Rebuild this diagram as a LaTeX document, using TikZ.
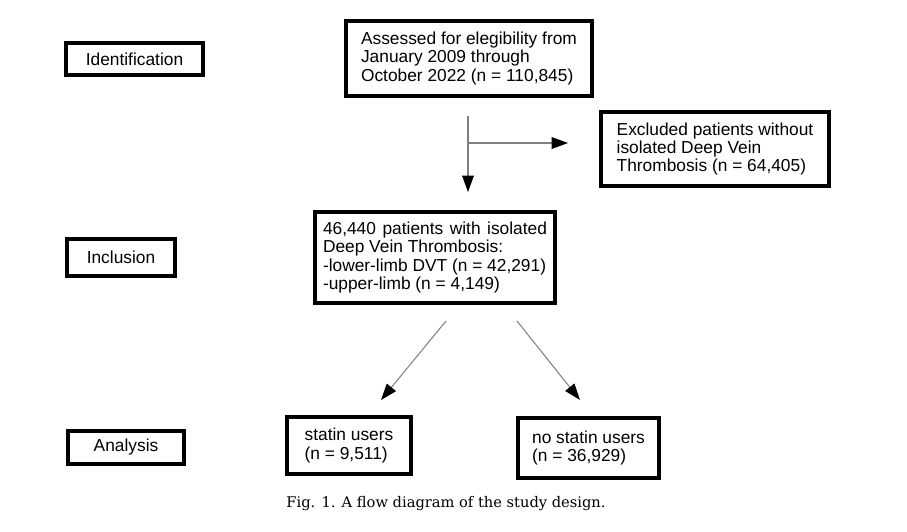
\documentclass[tikz,border=0pt]{standalone}
\usepackage{fontspec}
\setmainfont{Liberation Sans}
\newfontfamily\captionserif{DejaVu Serif}
\usetikzlibrary{arrows.meta}

\begin{document}
\begin{tikzpicture}[x=0.03cm, y=-0.03cm,
            box/.style={draw, line width=3pt, rectangle, inner sep=0pt,
                font=\fontsize{14.8}{15.6}\selectfont},
            flow/.style={draw=black!50, line width=0.9pt,
                -{Triangle[length=14pt, width=10pt, color=black]}}]
            \useasboundingbox (0,0) rectangle (907,531);

            % stage labels on the left
            \node[box, minimum width=4.11cm, minimum height=0.96cm] (ident) at (134.5,59) {Identification};
            \node[box, minimum width=3.24cm, minimum height=1.11cm] (incl) at (121,257.5) {Inclusion};
            \node[box, minimum width=3.48cm, minimum height=0.99cm] (anal) at (126,447.5) {Analysis};

            % flow boxes
            \node[box, align=left, minimum width=7.38cm, minimum height=2.25cm] (assess) at (469,58.5)
                {Assessed for elegibility from\\January 2009 through\\October 2022 (n = 110,845)};
            \node[box, align=left, minimum width=6.84cm, minimum height=2.22cm] (excl) at (715,149)
                {Excluded patients without\\isolated Deep Vein\\Thrombosis (n = 64,405)};
            \node[box, align=left, minimum width=7.2cm, minimum height=2.73cm] (pts) at (435,257.5)
                {\makebox[6.72cm][s]{46,440 patients with isolated}\\Deep Vein Thrombosis:\\-lower-limb DVT (n = 42,291)\\-upper-limb (n = 4,149)};
            \node[box, align=left, minimum width=3.72cm, minimum height=1.71cm] (statin) at (349,445.5)
                {statin users\\(n = 9,511)};
            \node[box, align=left, minimum width=4.23cm, minimum height=1.8cm] (nostatin) at (588.5,448)
                {no statin users\\(n = 36,929)};

            % arrow ends
            \coordinate (downtop) at (468,116);
            \coordinate (downtip) at (468,192);
            \coordinate (side) at (468,143);
            \coordinate (sidetip) at (568,143);
            \coordinate (lefttop) at (446,321);
            \coordinate (lefttip) at (381,400);
            \coordinate (righttop) at (517,321);
            \coordinate (righttip) at (580,400);

            \draw[flow] (downtop) -- (downtip);
            \draw[flow] (side) -- (sidetip);
            \draw[flow] (lefttop) -- (lefttip);
            \draw[flow] (righttop) -- (righttip);

            \node[font=\captionserif\fontsize{12.5}{15}\selectfont] (caption) at (446,504)
                {Fig. 1. A flow diagram of the study design.};
        \end{tikzpicture}
\end{document}
